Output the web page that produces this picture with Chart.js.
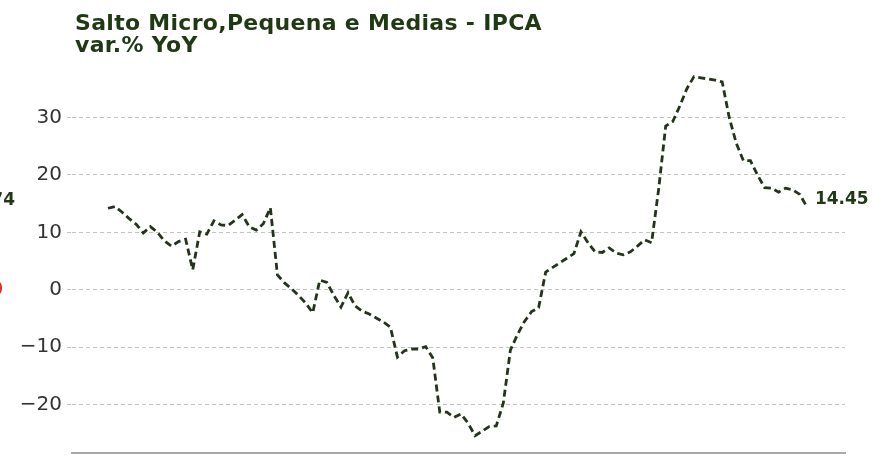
<!DOCTYPE html>
<html><head><meta charset="utf-8">
<script src="https://cdn.jsdelivr.net/npm/chart.js@4.4.0/dist/chart.umd.min.js"></script>
<style>html,body{margin:0;padding:0;background:#fff;overflow:hidden}#wrap{position:relative;width:873px;height:455px}</style>
</head><body><div id="wrap"><canvas id="c" width="873" height="455"></canvas></div>
<script>
// ---- data ----
const titleLines = ["Salto Micro,Pequena e Medias - IPCA", "var.% YoY"];
const yoyValues = [
  14.2, 14.5, 13.5, 12.4, 11.4, 9.9, 11.0, 10.0, 8.5, 7.6,
  8.4, 8.8, 3.5, 10.1, 9.7, 12.0, 11.3, 11.2, 12.1, 13.1,
  11.0, 10.4, 11.5, 14.3, 2.6, 1.2, 0.2, -1.0, -2.3, -4.0,
  1.7, 1.3, -1.0, -3.0, -0.5, -2.8, -3.7, -4.2, -4.9, -5.6,
  -6.5, -11.7, -10.6, -10.3, -10.3, -9.9, -11.8, -21.3, -21.3, -22.2,
  -21.6, -23.2, -25.4, -24.6, -23.8, -23.7, -19.7, -10.5, -7.8, -5.5,
  -3.8, -3.1, 3.1, 3.9, 4.7, 5.5, 6.3, 10.1, 8.2, 6.6,
  6.5, 7.3, 6.4, 6.1, 6.6, 7.6, 8.7, 8.2, 17.5, 28.5,
  29.3, 32.0, 35.0, 37.1, 36.9, 36.7, 36.5, 36.2, 30.0, 25.5,
  22.5, 22.5, 20.0, 17.8, 17.7, 17.0, 17.7, 17.4, 16.6, 14.45
];
const monthIndex = yoyValues.map((v, i) => i);
const yTickValues = [-20, -10, 0, 10, 20, 30];
const lastLabel = "14.45";

// ---- chart ----
const green = '#1f3a12';
const points = yoyValues.map((v, i) => ({x: monthIndex[i], y: v}));

const textPlugin = {
  id: 'texts',
  afterDraw(chart) {
    const ctx = chart.ctx;
    ctx.save();
    ctx.fillStyle = green;
    ctx.font = 'bold 22px "DejaVu Sans"';
    ctx.textBaseline = 'alphabetic';
    ctx.textAlign = 'left';
    ctx.letterSpacing = '0.3px';
    ctx.fillText(titleLines[0], 75, 30);
    ctx.fillText(titleLines[1], 75, 52);
    ctx.letterSpacing = '0px';
    const meta = chart.getDatasetMeta(0);
    const pt = meta.data[meta.data.length - 1];
    ctx.font = 'bold 17px "DejaVu Sans"';
    ctx.textBaseline = 'middle';
    ctx.fillText(lastLabel, pt.x + 8, pt.y - 7);
    // partially visible labels cut at the left edge
    ctx.textAlign = 'right';
    ctx.fillText('74', 15, 201);
    ctx.fillStyle = '#e0302a';
    ctx.font = 'bold 19px "DejaVu Sans"';
    ctx.fillText('0', 3, 290);
    ctx.restore();
  }
};

new Chart(document.getElementById('c'), {
  type: 'line',
  data: {
    datasets: [{
      data: points,
      borderColor: '#23341b',
      borderWidth: 2.8,
      borderDash: [7, 4],
      pointRadius: 0,
      tension: 0,
      fill: false
    }]
  },
  options: {
    responsive: false,
    animation: false,
    layout: {padding: {top: 60, left: 0, right: 28, bottom: 2}},
    plugins: {legend: {display: false}, tooltip: {enabled: false}, title: {display: false}},
    scales: {
      x: {
        type: 'linear',
        min: -5.1,
        max: 104.4,
        ticks: {display: false},
        grid: {display: false, drawTicks: false},
        border: {display: true, color: '#a8a8a8', width: 2},
        afterFit(s) { s.height = 0; s.paddingLeft = 0; s.paddingRight = 0; }
      },
      y: {
        min: -28.4,
        max: 40,
        afterBuildTicks(s) { s.ticks = yTickValues.map(v => ({value: v})); },
        ticks: {
          color: '#333',
          font: {family: '"DejaVu Sans"', size: 20},
          padding: 5,
          callback: v => String(v).replace('-', '\u2212')
        },
        grid: {color: '#c4c4c4', lineWidth: 1, tickLength: 5, tickBorderDash: [4, 3]},
        border: {display: false, dash: [4, 3]},
        afterFit(s) { s.width = 72; s.paddingTop = 0; s.paddingBottom = 0; }
      }
    }
  },
  plugins: [textPlugin]
});
</script></body></html>
